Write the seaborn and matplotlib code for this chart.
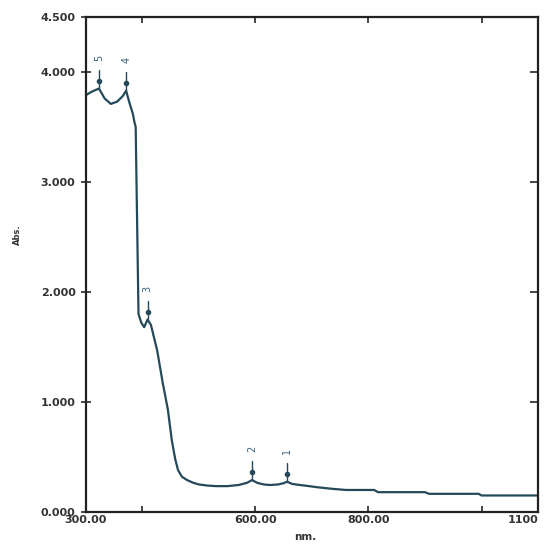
import numpy as np
import pandas as pd
import seaborn as sns
import matplotlib.pyplot as plt

sns.set_style("ticks")
plt.rcParams['font.family'] = ['DejaVu Sans']

wavelength = [300, 310, 323, 333, 344, 355, 365, 371, 377, 383, 386, 388,
              393, 398, 403, 409, 415, 426, 436, 445, 452, 458, 463, 470,
              479, 490, 500, 515, 530, 550, 570, 585, 594, 603, 615, 626,
              640, 650, 656, 665, 679, 695, 709, 737, 760, 810, 817, 900,
              907, 995, 1000, 1100]
absorbance = [3.79, 3.82, 3.85, 3.76, 3.71, 3.73, 3.78, 3.83, 3.72, 3.62, 3.54, 3.50,
              1.80, 1.72, 1.68, 1.75, 1.70, 1.47, 1.17, 0.93, 0.65, 0.48, 0.38, 0.32,
              0.29, 0.265, 0.25, 0.24, 0.235, 0.235, 0.245, 0.265, 0.29, 0.265, 0.25, 0.245,
              0.25, 0.262, 0.275, 0.255, 0.245, 0.235, 0.225, 0.21, 0.20, 0.20, 0.18, 0.18,
              0.165, 0.165, 0.15, 0.15]

peak_nm = [656, 594, 409, 371, 323]
peak_abs = [0.275, 0.29, 1.75, 3.83, 3.85]
peak_no = ["1", "2", "3", "4", "5"]

x_ticks = [300, 400, 600, 800, 1000, 1100]
x_labels = ["300.00", "", "600.00", "800.00", "", "1100"]
y_ticks = [0, 1, 2, 3, 4, 4.5]
y_labels = ["0.000", "1.000", "2.000", "3.000", "4.000", "4.500"]

df = pd.DataFrame({"nm": wavelength, "Abs": absorbance})

fig = plt.figure(figsize=(5.44, 5.45), dpi=100)
ax = fig.add_axes([0.158, 0.0606, 0.831, 0.9082])

line_color = "#24495a"
sns.lineplot(data=df, x="nm", y="Abs", ax=ax, color=line_color, linewidth=1.6)

# peak pick markers
for xp, yp, lab in zip(peak_nm, peak_abs, peak_no):
    ax.plot([xp, xp], [yp, yp + 0.17], color=line_color, linewidth=1.0)
    ax.plot(xp, yp + 0.07, marker="o", markersize=3, color=line_color)
    ax.text(xp, yp + 0.28, lab, rotation=90, ha="center", va="center",
            fontsize=7, color="#3a5f7a")

ax.set_xlim(300, 1100)
ax.set_ylim(0, 4.5)
ax.set_xticks(x_ticks)
ax.set_xticklabels(x_labels, fontsize=8, fontweight="bold", color="#333333")
ax.set_yticks(y_ticks)
ax.set_yticklabels(y_labels, fontsize=8, fontweight="bold", color="#333333")
ax.get_xticklabels()[-1].set_ha("right")

ax.tick_params(axis="x", direction="in", length=4, width=1.2, top=True, pad=2)
ax.tick_params(axis="y", which="both", left=True, right=False, direction="inout",
               length=7, width=1.2, pad=4)
ax2 = ax.secondary_yaxis("right")
ax2.set_yticks([1, 2, 3, 4])
ax2.set_yticklabels([])
ax2.tick_params(direction="in", length=6, width=1.2)
ax2.spines["right"].set_visible(False)

for s in ax.spines.values():
    s.set_linewidth(1.6)
    s.set_color("#222222")

ax.set_xlabel("")
fig.text(305 / 544, 1 - 537 / 545, "nm.", ha="center", va="center",
         fontsize=7.5, fontweight="bold", color="#333333")
ax.set_ylabel("")
fig.text(17 / 544, 1 - 235 / 545, "Abs.", rotation=90, ha="center", va="center",
         fontsize=6, fontweight="bold", color="#333333")

fig.savefig("out.png", dpi=100)
